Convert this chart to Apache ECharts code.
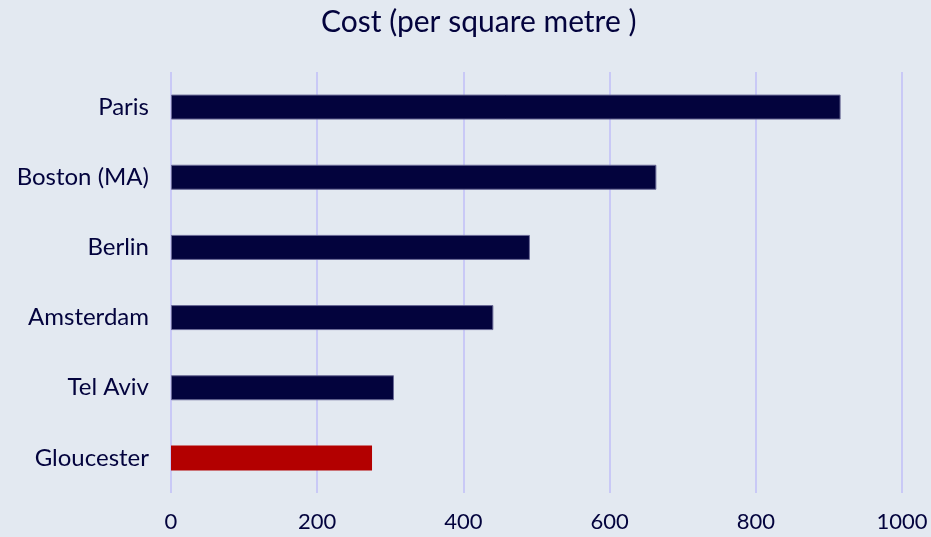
<!DOCTYPE html>
<html>
<head>
<meta charset="utf-8">
<script src="https://cdn.jsdelivr.net/npm/echarts@6/dist/echarts.min.js"></script>
<style>
  html, body { margin: 0; padding: 0; background: #e3e9f1; }
  #chart-container { width: 931px; height: 537px; }
</style>
</head>
<body>
<div id="chart-container"></div>
<script>
var dom = document.getElementById('chart-container');
var myChart = echarts.init(dom, null, { renderer: 'canvas' });

// data
var cities = ['Gloucester', 'Tel Aviv', 'Amsterdam', 'Berlin', 'Boston (MA)', 'Paris'];
var costs = [275, 305, 441, 491, 664, 916];
var highlight = 'Gloucester';

var navy = '#03033d';
var red = '#b30000';
var font = 'Lato, "Open Sans", sans-serif';

var option = {
  backgroundColor: '#e3e9f1',
  animation: false,
  title: {
    text: 'Cost (per square metre )',
    left: 316,
    top: 2,
    textStyle: { color: navy, fontSize: 30, fontWeight: 'normal', fontFamily: font }
  },
  grid: { left: 171, right: 29, top: 72, bottom: 44, containLabel: false },
  xAxis: {
    type: 'value',
    min: 0,
    max: 1000,
    interval: 200,
    axisLine: { show: false },
    axisTick: { show: false },
    splitLine: { show: true, lineStyle: { color: '#c9c9f6', width: 2 } },
    axisLabel: {
      color: navy, fontSize: 22, fontFamily: font, margin: 18,
      formatter: function (v) { return String(v); }
    }
  },
  yAxis: {
    type: 'category',
    data: cities,
    axisLine: { show: false },
    axisTick: { show: false },
    axisLabel: { color: navy, fontSize: 24, fontFamily: font, margin: 22 }
  },
  series: [
    {
      type: 'bar',
      barWidth: 25,
      data: cities.map(function (c, i) {
        return {
          value: costs[i],
          itemStyle: c === highlight
            ? { color: red }
            : { color: navy, borderColor: '#6a6a96', borderWidth: 1 }
        };
      })
    }
  ]
};

myChart.setOption(option);
window.addEventListener('resize', myChart.resize);
</script>
</body>
</html>
